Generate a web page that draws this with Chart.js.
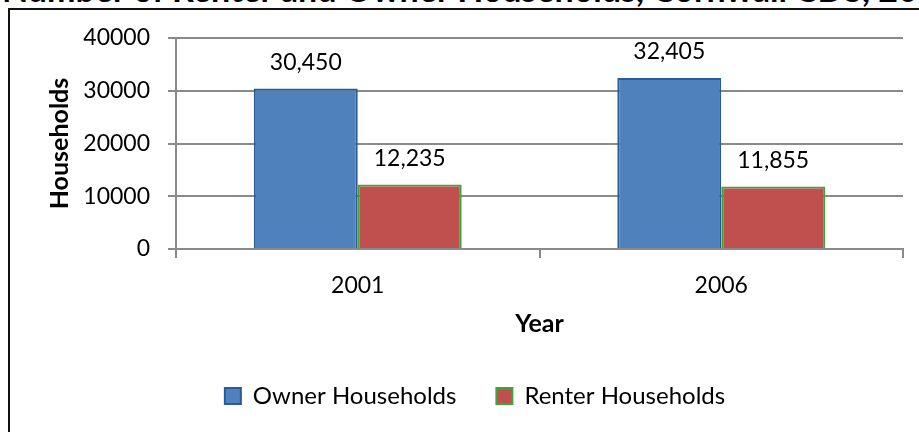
<!DOCTYPE html>
<html>
<head>
<meta charset="utf-8">
<script src="https://cdn.jsdelivr.net/npm/chart.js@4.4.0/dist/chart.umd.min.js"></script>
<style>
  body { margin: 0; width: 919px; height: 432px; overflow: hidden; background: #fff; position: relative; }
  #title { position: absolute; left: 2px; top: -28px; font: bold 34px/34px Lato, sans-serif; white-space: nowrap; color: #000; }
  #frame { position: absolute; left: 8px; top: 8px; width: 940px; height: 440px; border: 2px solid #111; }
  #wrap { position: absolute; left: 0; top: 0; }
</style>
</head>
<body>
<div id="title">Number of Renter and Owner Households, Cornwall CDS, 2001-2006</div>
<div id="frame"></div>
<div id="wrap"><canvas id="householdChart" width="950" height="432"></canvas></div>
<script>
// Census years and household counts
const years = ['2001', '2006'];
const ownerHouseholds = [30450, 32405];
const renterHouseholds = [12235, 11855];
const yTicks = [0, 10000, 20000, 30000, 40000];

const gridGray = '#8a8a8a';

// Draw the value above each bar
const valueLabels = {
    id: 'valueLabels',
    afterDatasetsDraw(chart) {
        const ctx = chart.ctx;
        ctx.save();
        ctx.font = '23px Lato';
        ctx.fillStyle = '#000';
        ctx.textAlign = 'center';
        ctx.textBaseline = 'middle';
        chart.data.datasets.forEach((ds, i) => {
            chart.getDatasetMeta(i).data.forEach((bar, j) => {
                ctx.fillText(ds.data[j].toLocaleString('en-US'), bar.x, bar.y - 26);
            });
        });
        ctx.restore();
    }
};

const ctx = document.getElementById('householdChart').getContext('2d');

let householdChart = new Chart(ctx, {
    type: 'bar',
    data: {
        labels: years,
        datasets: [{
            label: 'Owner Households',
            data: ownerHouseholds,
            backgroundColor: '#4F81BD',
            borderColor: '#2A5C92',
            borderWidth: 2
        }, {
            label: 'Renter Households',
            data: renterHouseholds,
            backgroundColor: '#C0504D',
            borderColor: '#3BA63B',
            borderWidth: 2
        }]
    },
    options: {
        responsive: false,
        animation: false,
        layout: { padding: { top: 38, bottom: 14, left: 0, right: 0 } },
        datasets: {
            bar: { barPercentage: 1, categoryPercentage: 0.572 }
        },
        plugins: {
            tooltip: { enabled: false },
            legend: {
                position: 'bottom',
                labels: {
                    boxWidth: 16,
                    boxHeight: 16,
                    padding: 40,
                    color: '#000',
                    font: { family: 'Lato', size: 24 }
                }
            }
        },
        scales: {
            x: {
                afterFit(scale) { scale.height = 95; },
                grid: { drawOnChartArea: false, color: gridGray, lineWidth: 2, tickLength: 9 },
                border: { color: gridGray, width: 2 },
                ticks: { color: '#000', padding: 14, font: { family: 'Lato', size: 23 } },
                title: {
                    display: true,
                    text: 'Year',
                    color: '#000',
                    padding: { top: 0, bottom: 5 },
                    font: { family: 'Lato', size: 25, weight: 'bold' }
                }
            },
            y: {
                min: 0,
                max: 40000,
                afterFit(scale) { scale.width = 176; },
                afterBuildTicks(scale) { scale.ticks = yTicks.map(v => ({ value: v })); },
                grid: { color: gridGray, lineWidth: 2, tickLength: 8 },
                border: { color: gridGray, width: 2 },
                ticks: {
                    color: '#000',
                    padding: 18,
                    font: { family: 'Lato', size: 23 },
                    callback: v => String(v)
                },
                title: {
                    display: true,
                    text: 'Households',
                    color: '#000',
                    padding: { top: 45, bottom: 0 },
                    font: { family: 'Lato', size: 25, weight: 'bold' }
                }
            },
            // empty right-hand gutter so the legend centres in the full frame
            gutter: {
                position: 'right',
                display: true,
                afterFit(scale) { scale.width = 47; },
                grid: { display: false },
                border: { display: false },
                ticks: { display: false }
            }
        }
    },
    plugins: [valueLabels]
});
</script>
</body>
</html>
